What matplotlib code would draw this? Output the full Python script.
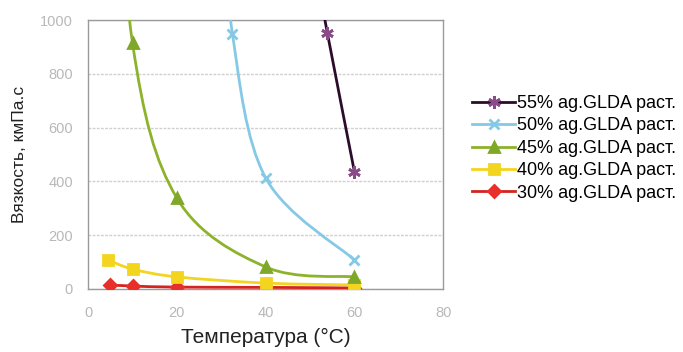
import numpy as np
import matplotlib
matplotlib.use("Agg")
import matplotlib.pyplot as plt
from matplotlib.path import Path
from matplotlib.patches import PathPatch
from matplotlib.lines import Line2D

plt.rcParams['font.family'] = ['Liberation Sans', 'DejaVu Sans']

labels = ["55% ag.GLDA раст.", "50% ag.GLDA раст.", "45% ag.GLDA раст.",
          "40% ag.GLDA раст.", "30% ag.GLDA раст."]

# temperature (°C) and viscosity (kmPa.s); first points of the upper
# three series lie above the axis limit and are clipped
t55 = [50, 53.9, 60]
v55 = [1300, 951, 435]
t50 = [30, 32.5, 40, 60]
v50 = [1500, 950, 413, 108]
t45 = [5, 10, 20, 40, 60]
v45 = [2000, 915, 338, 82, 45]
t40 = [4.5, 10, 20, 40, 60]
v40 = [108, 74, 45, 22, 15]
t30 = [5, 10, 20, 40, 60]
v30 = [15, 11, 7, 6, 4]

xticks = [0, 20, 40, 60, 80]
yticks = [0, 200, 400, 600, 800, 1000]

line_colors = ["#2b0d2b", "#86c9e6", "#8db22c", "#f3d41e", "#d42420"]
marker_colors = ["#8b4a88", "#86c9e6", "#7fa82a", "#f3d41e", "#e8302a"]
markers = [(6, 2, 0), "x", "^", "s", "D"]
msizes = [9, 7, 7, 7, 6]


def smooth_path(x, y):
    # Catmull-Rom spline drawn as cubic Bezier segments (Excel-like smoothing)
    p = np.column_stack([x, y]).astype(float)
    verts = [p[0]]
    codes = [Path.MOVETO]
    n = len(p)
    for i in range(n - 1):
        p0 = p[i - 1] if i > 0 else p[i]
        p1 = p[i]
        p2 = p[i + 1]
        p3 = p[i + 2] if i + 2 < n else p[i + 1]
        c1 = p1 + (p2 - p0) / 6.0
        c2 = p2 - (p3 - p1) / 6.0
        verts += [c1, c2, p2]
        codes += [Path.CURVE4] * 3
    return Path(verts, codes)


fig = plt.figure(figsize=(6.83, 3.52), dpi=100)
ax = fig.add_axes([0.129, 0.179, 0.52, 0.764])

series = [(t55, v55), (t50, v50), (t45, v45), (t40, v40), (t30, v30)]
for k in range(len(series) - 1, -1, -1):
    x, y = series[k]
    patch = PathPatch(smooth_path(x, y), facecolor="none",
                      edgecolor=line_colors[k], lw=2.0, zorder=3)
    ax.add_patch(patch)
    patch.set_clip_path(ax.patch)
    ax.plot(x, y, linestyle="none", marker=markers[k], ms=msizes[k],
            mfc=marker_colors[k], mec=marker_colors[k], mew=2, zorder=4)

ax.set_xlim(0, 80)
ax.set_ylim(0, 1000)
ax.set_xticks(xticks)
ax.set_yticks(yticks)
ax.tick_params(length=0, labelsize=10.5, labelcolor="#b8b8b8")
ax.tick_params(axis="x", pad=12)
ax.tick_params(axis="y", pad=11)
ax.yaxis.grid(True, color="#d0d0d0", lw=1, ls=(0, (2, 1)))
ax.set_axisbelow(True)
for s in ax.spines.values():
    s.set_color("#9a9a9a")
    s.set_linewidth(1)
    s.set_linestyle((0, (2, 1)))

ax.set_xlabel("Температура (°C)", fontsize=15, color="#222222", labelpad=6)
ax.set_ylabel("Вязкость, кмПа.с", fontsize=12.5, color="#222222", labelpad=9)

handles = [Line2D([], [], color=line_colors[k], lw=2, marker=markers[k],
                  ms=msizes[k], mfc=marker_colors[k], mec=marker_colors[k],
                  mew=2) for k in range(5)]
fig.legend(handles, labels, loc="upper left",
           bbox_to_anchor=(472 / 683, 1 - 95 / 352), frameon=False,
           fontsize=13, handlelength=2.4, handletextpad=0.1,
           labelspacing=0.3, borderaxespad=0, borderpad=0)

fig.savefig("out.png", dpi=100, facecolor="white")
